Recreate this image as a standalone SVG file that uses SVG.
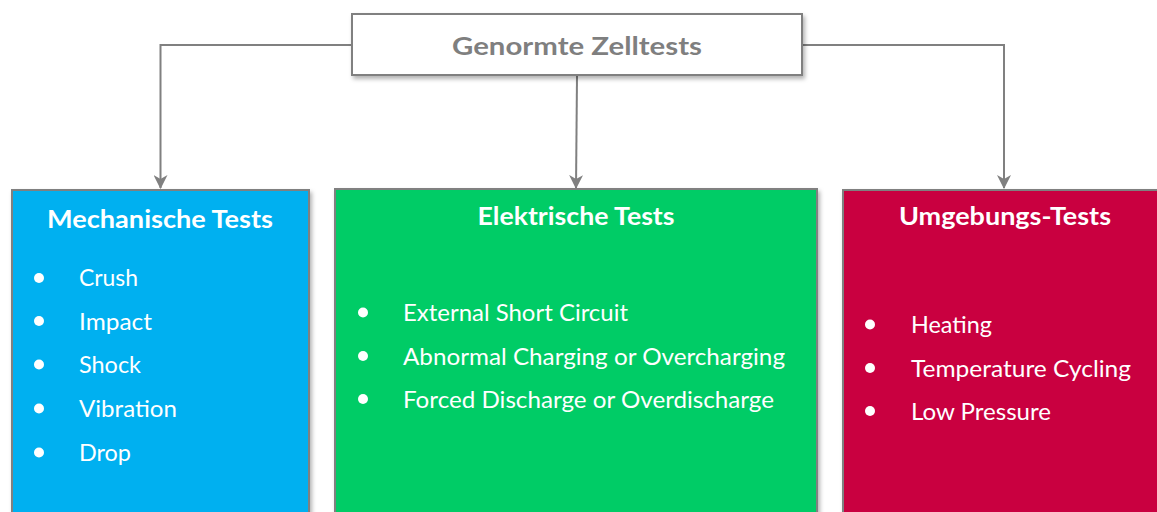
<svg xmlns="http://www.w3.org/2000/svg" width="1157" height="512" viewBox="0 0 1157 512">
<defs>
<filter id="sh" x="-5%" y="-5%" width="115%" height="130%">
<feDropShadow dx="2" dy="3" stdDeviation="2" flood-color="#000" flood-opacity="0.3"/>
</filter>
<marker id="ar" viewBox="0 0 14 14" refX="13" refY="7" markerWidth="14" markerHeight="14" markerUnits="userSpaceOnUse" orient="auto">
<path d="M0,0 L14,7 L0,14 L4,7 Z" fill="#808080"/>
</marker>
<style>
.box{stroke:#808080;stroke-width:2;filter:url(#sh)}
.t{font-family:Lato,"Open Sans","Liberation Sans",sans-serif;font-weight:bold;font-size:25px;fill:#fff;text-anchor:middle}
.i{font-family:Lato,"Open Sans","Liberation Sans",sans-serif;font-size:23px;fill:#fff}
.b{fill:#fff}
.c{fill:none;stroke:#808080;stroke-width:2;marker-end:url(#ar)}
</style>
</defs>
<rect width="1157" height="512" fill="#fff"/>
<g id="connectors">
<path class="c" d="M352,45 H160.5 V188"/>
<path class="c" d="M577,76 L576,188"/>
<path class="c" d="M802,45 H1004 V188"/>
</g>
<g id="root">
<rect class="box" x="352" y="14" width="450" height="61" fill="#fff"/>
<text x="577" y="55" class="t" style="fill:#7f7f7f" textLength="250" lengthAdjust="spacingAndGlyphs">Genormte Zelltests</text>
</g>
<g id="mechanisch">
<rect class="box" x="12" y="190" width="297" height="340" fill="#00B0F0"/>
<text x="160" y="228" class="t" textLength="226" lengthAdjust="spacingAndGlyphs">Mechanische Tests</text>
<circle class="b" cx="39" cy="278" r="5"/><text class="i" x="79" y="286" textLength="59" lengthAdjust="spacingAndGlyphs">Crush</text>
<circle class="b" cx="39" cy="321" r="5"/><text class="i" x="79" y="329.5" textLength="73" lengthAdjust="spacingAndGlyphs">Impact</text>
<circle class="b" cx="39" cy="364.5" r="5"/><text class="i" x="79" y="373" textLength="62" lengthAdjust="spacingAndGlyphs">Shock</text>
<circle class="b" cx="39" cy="408.5" r="5"/><text class="i" x="79" y="417" textLength="98" lengthAdjust="spacingAndGlyphs">Vibration</text>
<circle class="b" cx="39" cy="452.5" r="5"/><text class="i" x="79" y="461" textLength="52" lengthAdjust="spacingAndGlyphs">Drop</text>
</g>
<g id="elektrisch">
<rect class="box" x="335" y="189" width="482" height="340" fill="#00CC66"/>
<text x="576" y="225" class="t" textLength="197" lengthAdjust="spacingAndGlyphs">Elektrische Tests</text>
<circle class="b" cx="363" cy="312.5" r="5"/><text class="i" x="403" y="321" textLength="225" lengthAdjust="spacingAndGlyphs">External Short Circuit</text>
<circle class="b" cx="363" cy="356" r="5"/><text class="i" x="403" y="364.5" textLength="382" lengthAdjust="spacingAndGlyphs">Abnormal Charging or Overcharging</text>
<circle class="b" cx="363" cy="399" r="5"/><text class="i" x="403" y="407.5" textLength="371" lengthAdjust="spacingAndGlyphs">Forced Discharge or Overdischarge</text>
</g>
<g id="umgebung">
<rect class="box" x="843" y="190" width="330" height="340" fill="#C9003F"/>
<text x="1005" y="225" class="t" textLength="212" lengthAdjust="spacingAndGlyphs">Umgebungs-Tests</text>
<circle class="b" cx="870" cy="324.5" r="5"/><text class="i" x="911" y="333" textLength="81" lengthAdjust="spacingAndGlyphs">Heating</text>
<circle class="b" cx="870" cy="368" r="5"/><text class="i" x="911" y="376.5" textLength="220" lengthAdjust="spacingAndGlyphs">Temperature Cycling</text>
<circle class="b" cx="870" cy="411" r="5"/><text class="i" x="911" y="419.5" textLength="140" lengthAdjust="spacingAndGlyphs">Low Pressure</text>
</g>
</svg>
